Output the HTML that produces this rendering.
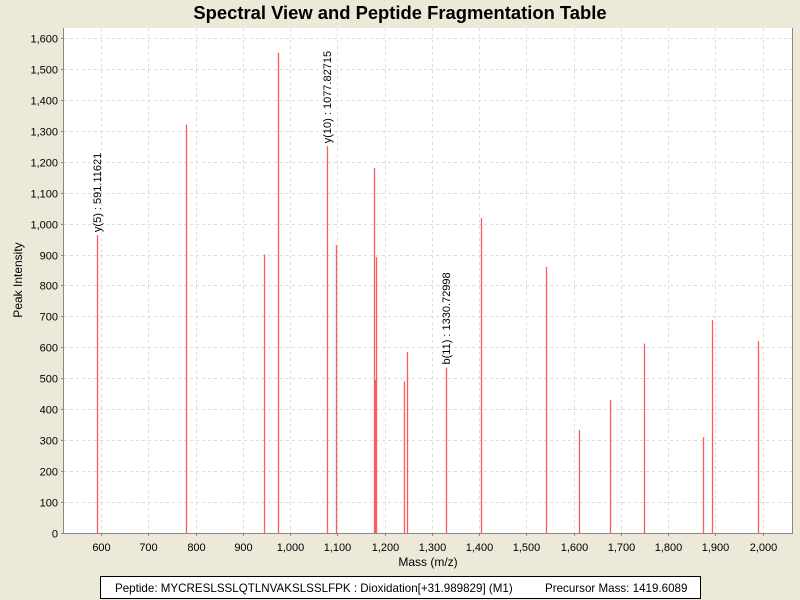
<!DOCTYPE html>
<html><head><meta charset="utf-8"><style>
body{margin:0;background:#ece9d8;width:800px;height:600px;overflow:hidden;font-family:"Liberation Sans",sans-serif}
svg{display:block}
</style></head><body>
<svg id="chart" width="800" height="600">
<rect x="0" y="0" width="800" height="600" fill="#ece9d8"/>
<text x="400" y="19" text-anchor="middle" font-size="18.4" font-weight="bold" fill="#000">Spectral View and Peptide Fragmentation Table</text>
<rect x="64" y="28" width="728" height="505" fill="#fff"/>
<g id="grid"></g><g id="peaks"></g><g id="axes"></g>
<text transform="translate(22,280) rotate(-90)" text-anchor="middle" font-size="12">Peak Intensity</text>
<text x="428" y="566" text-anchor="middle" font-size="12">Mass (m/z)</text>
<g>
<rect x="100.5" y="576.5" width="600" height="22" fill="#fff" stroke="#000"/>
<text x="115" y="592" font-size="11.6">Peptide: MYCRESLSSLQTLNVAKSLSSLFPK : Dioxidation[+31.989829] (M1)</text>
<text x="545" y="592" font-size="11.6">Precursor Mass: 1419.6089</text>
</g>
</svg>
<script>
const masses=[591.1,779,944,974,1077.8,1098,1177,1179,1181,1241,1247,1330.7,1404,1541,1611,1676,1748,1873,1892,1991];
const intensities=[963,1320,900,1552,1250,930,1180,495,892,490,585,535,1018,860,333,430,612,310,688,620];
const annotationMasses=[591.1,1077.8,1330.7];
const annotationLabels=["y(5) : 591.11621","y(10) : 1077.82715","b(11) : 1330.72998"];
const xTicks=[600,700,800,900,1000,1100,1200,1300,1400,1500,1600,1700,1800,1900,2000];
const yTicks=[0,100,200,300,400,500,600,700,800,900,1000,1100,1200,1300,1400,1500,1600];
const L=64,R=792,T=28,B=533;
const xs=m=>101+(m-600)*0.47264;
const ys=v=>B-v*0.30938;
const NS="http://www.w3.org/2000/svg";
function mk(t,a,p){const e=document.createElementNS(NS,t);for(const k in a)e.setAttribute(k,a[k]);p.appendChild(e);return e;}
const grid=document.getElementById('grid'),axes=document.getElementById('axes'),pk=document.getElementById('peaks');
const fmt=n=>n.toLocaleString('en-US');
xTicks.forEach(t=>{const x=Math.round(xs(t))+0.5;
 const g=mk('line',{x1:x,x2:x,y1:T,y2:B,stroke:'#ddd','stroke-dasharray':'3,3'},grid);
 
 
 const tk=mk('line',{x1:x,x2:x,y1:B,y2:B+3,stroke:'#888'},axes);
 
 
 const l=mk('text',{x:x,y:B+18,'text-anchor':'middle','font-size':11},axes);l.textContent=fmt(t);
 
 
});
yTicks.forEach(t=>{const y=Math.round(ys(t))+0.5;
 if(t>0){const g=mk('line',{x1:L,x2:R,y1:y,y2:y,stroke:'#ddd','stroke-dasharray':'3,3'},grid);
 
 }
 const tk=mk('line',{x1:L-3,x2:L,y1:y,y2:y,stroke:'#888'},axes);
 
 
 const l=mk('text',{x:L-6,y:y+4,'text-anchor':'end','font-size':11},axes);l.textContent=fmt(t);
 
 
});
const ax=mk('path',{d:`M${L-0.5},${T}V${B+0.5}H${R+0.5}V${T}`,fill:'none',stroke:'#888'},axes);


masses.forEach((m,i)=>{const x=Math.round(xs(m))+0.5;
 const p=mk('line',{x1:x,x2:x,y1:ys(intensities[i]),y2:B,stroke:'#ff5a5a','stroke-width':1.3},pk);
 
 
});
annotationMasses.forEach((m,j)=>{const i=masses.indexOf(m);const x=Math.round(xs(m))+4;const y=ys(intensities[i])-3;
 const l=mk('text',{transform:`translate(${x},${y}) rotate(-90)`,'font-size':11},pk);l.textContent=annotationLabels[j];
 
 
});
</script>
</body></html>
